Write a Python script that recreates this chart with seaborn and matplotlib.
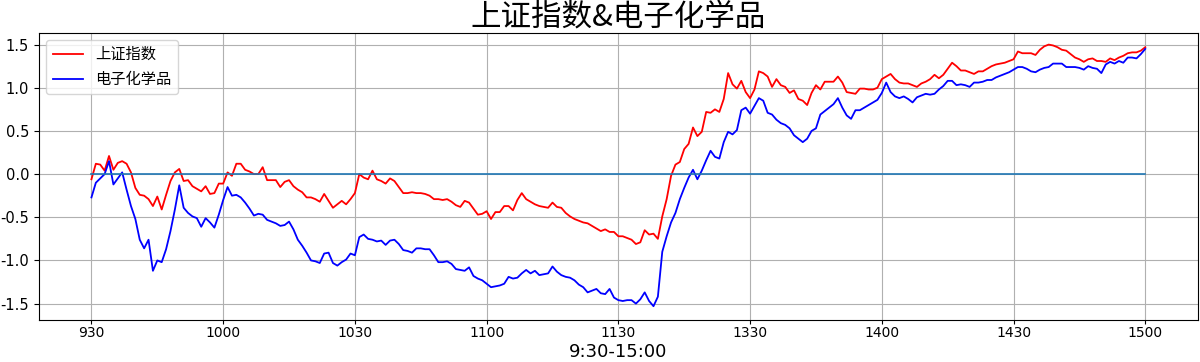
import numpy as np
import pandas as pd
import matplotlib
matplotlib.use("Agg")
import matplotlib.pyplot as plt
import seaborn as sns

title = "上证指数&电子化学品"
xlabel = "9:30-15:00"
series_names = ["上证指数", "电子化学品"]
tick_labels = ["930", "1000", "1030", "1100", "1130", "1330", "1400", "1430", "1500"]

shanghai = [
    -0.06, 0.12, 0.11, 0.04, 0.21, 0.05, 0.13, 0.15, 0.12, 0.02,
    -0.16, -0.24, -0.25, -0.29, -0.37, -0.26, -0.41, -0.24, -0.08, 0.02,
    0.06, -0.08, -0.07, -0.14, -0.17, -0.20, -0.14, -0.23, -0.22, -0.11,
    -0.11, 0.02, -0.02, 0.12, 0.12, 0.05, 0.03, 0.00, 0.00, 0.08,
    -0.07, -0.07, -0.07, -0.15, -0.09, -0.07, -0.14, -0.18, -0.21, -0.27,
    -0.27, -0.29, -0.32, -0.23, -0.31, -0.39, -0.35, -0.31, -0.35, -0.29,
    -0.22, 0.00, -0.04, -0.06, 0.04, -0.06, -0.08, -0.11, -0.05, -0.08,
    -0.15, -0.22, -0.22, -0.21, -0.22, -0.22, -0.23, -0.25, -0.29, -0.29,
    -0.30, -0.29, -0.32, -0.36, -0.38, -0.31, -0.33, -0.40, -0.47, -0.46,
    -0.43, -0.52, -0.44, -0.44, -0.37, -0.37, -0.42, -0.30, -0.22, -0.29,
    -0.32, -0.35, -0.37, -0.38, -0.39, -0.33, -0.38, -0.39, -0.45, -0.49,
    -0.52, -0.54, -0.56, -0.57, -0.60, -0.63, -0.66, -0.64, -0.67, -0.67,
    -0.72, -0.72, -0.74, -0.76, -0.81, -0.79, -0.65, -0.70, -0.69, -0.75,
    -0.49, -0.29, -0.02, 0.11, 0.14, 0.29, 0.35, 0.54, 0.44, 0.49,
    0.72, 0.71, 0.75, 0.72, 0.87, 1.17, 1.04, 0.99, 1.08, 0.95,
    0.88, 0.98, 1.19, 1.17, 1.13, 1.01, 1.10, 1.03, 1.01, 0.94,
    0.97, 0.87, 0.85, 0.80, 0.94, 1.03, 0.98, 1.07, 1.07, 1.07,
    1.13, 1.06, 0.95, 0.94, 0.93, 0.99, 0.99, 0.98, 0.98, 1.00,
    1.10, 1.13, 1.16, 1.10, 1.06, 1.05, 1.05, 1.03, 1.01, 1.05,
    1.07, 1.10, 1.15, 1.11, 1.15, 1.22, 1.29, 1.25, 1.20, 1.20,
    1.18, 1.16, 1.19, 1.19, 1.22, 1.25, 1.27, 1.28, 1.29, 1.31,
    1.33, 1.42, 1.40, 1.40, 1.40, 1.38, 1.44, 1.48, 1.50, 1.49,
    1.47, 1.44, 1.43, 1.39, 1.35, 1.33, 1.30, 1.33, 1.34, 1.31,
    1.31, 1.30, 1.34, 1.32, 1.35, 1.37, 1.40, 1.41, 1.41, 1.43,
    1.47,
]

electronic = [
    -0.27, -0.10, -0.05, 0.00, 0.15, -0.12, -0.05, 0.02, -0.18, -0.37,
    -0.52, -0.76, -0.86, -0.76, -1.12, -1.00, -1.02, -0.87, -0.66, -0.41,
    -0.13, -0.39, -0.45, -0.49, -0.51, -0.61, -0.51, -0.56, -0.62, -0.47,
    -0.30, -0.15, -0.25, -0.24, -0.27, -0.33, -0.40, -0.48, -0.46, -0.47,
    -0.53, -0.55, -0.57, -0.60, -0.59, -0.55, -0.64, -0.76, -0.83, -0.91,
    -1.00, -1.01, -1.03, -0.92, -0.91, -1.03, -1.06, -1.02, -0.99, -0.92,
    -0.94, -0.73, -0.70, -0.75, -0.76, -0.78, -0.77, -0.82, -0.77, -0.76,
    -0.81, -0.88, -0.89, -0.91, -0.86, -0.86, -0.87, -0.87, -0.94, -1.02,
    -1.02, -1.01, -1.04, -1.10, -1.11, -1.12, -1.08, -1.18, -1.21, -1.23,
    -1.27, -1.31, -1.30, -1.29, -1.27, -1.19, -1.21, -1.20, -1.15, -1.11,
    -1.15, -1.12, -1.17, -1.16, -1.15, -1.07, -1.13, -1.17, -1.19, -1.20,
    -1.23, -1.28, -1.31, -1.37, -1.35, -1.33, -1.38, -1.39, -1.33, -1.43,
    -1.46, -1.47, -1.46, -1.46, -1.50, -1.45, -1.37, -1.47, -1.53, -1.42,
    -0.90, -0.72, -0.56, -0.45, -0.29, -0.16, -0.04, 0.05, -0.06, 0.04,
    0.16, 0.27, 0.20, 0.18, 0.37, 0.49, 0.46, 0.51, 0.74, 0.77,
    0.70, 0.79, 0.88, 0.85, 0.71, 0.69, 0.63, 0.59, 0.57, 0.53,
    0.45, 0.41, 0.37, 0.41, 0.50, 0.53, 0.69, 0.73, 0.77, 0.81,
    0.88, 0.77, 0.68, 0.64, 0.74, 0.74, 0.77, 0.80, 0.83, 0.86,
    0.94, 1.06, 0.95, 0.90, 0.88, 0.90, 0.87, 0.83, 0.89, 0.91,
    0.93, 0.92, 0.93, 0.98, 1.02, 1.08, 1.08, 1.03, 1.04, 1.03,
    1.01, 1.06, 1.06, 1.07, 1.09, 1.09, 1.12, 1.14, 1.16, 1.18,
    1.21, 1.24, 1.24, 1.22, 1.19, 1.18, 1.21, 1.23, 1.24, 1.28,
    1.28, 1.28, 1.24, 1.24, 1.24, 1.23, 1.21, 1.25, 1.23, 1.22,
    1.17, 1.27, 1.30, 1.28, 1.31, 1.29, 1.35, 1.35, 1.34, 1.39,
    1.45,
]

baseline = [0.0] * len(shanghai)

minutes = np.arange(len(shanghai))
df = pd.DataFrame({"minute": minutes, "sh": shanghai, "ec": electronic, "zero": baseline})

plt.rcParams["font.family"] = ["Noto Sans CJK SC", "DejaVu Sans"]
plt.rcParams["axes.unicode_minus"] = False

fig = plt.figure(figsize=(12, 3.62), dpi=100)
ax = fig.add_axes([0.0323, 0.1160, 0.9660, 0.7942])

sns.lineplot(data=df, x="minute", y="sh", color="red", linewidth=1.3, label=series_names[0], ax=ax)
sns.lineplot(data=df, x="minute", y="ec", color="blue", linewidth=1.3, label=series_names[1], ax=ax)
sns.lineplot(data=df, x="minute", y="zero", color="#1f77b4", linewidth=1.2, ax=ax)

tick_pos = [minutes[0] + 30 * k for k in range(len(tick_labels))]
ax.set_xticks(tick_pos)
ax.set_xticklabels(tick_labels, fontsize=10, family="DejaVu Sans")
ax.tick_params(axis="x", pad=1, length=3)
ax.set_yticks([-1.5, -1.0, -0.5, 0.0, 0.5, 1.0, 1.5])
ax.set_yticklabels(["-1.5", "-1.0", "-0.5", "0.0", "0.5", "1.0", "1.5"], fontsize=10.5, family="DejaVu Sans")
ax.grid(True, color="#b0b0b0", linewidth=0.8)
ax.set_xlim(-12, 252)
ax.set_ylim(-1.69, 1.64)
ax.set_ylabel("")
ax.set_xlabel(xlabel, fontsize=13, family="DejaVu Sans")
ax.xaxis.label.set_va("bottom")
ax.xaxis.set_label_coords(0.5, -0.1435)
ax.set_title(title, fontsize=22, pad=3)
ax.legend(loc="upper left", fontsize=11, frameon=True)

fig.savefig("out.png", dpi=100)
